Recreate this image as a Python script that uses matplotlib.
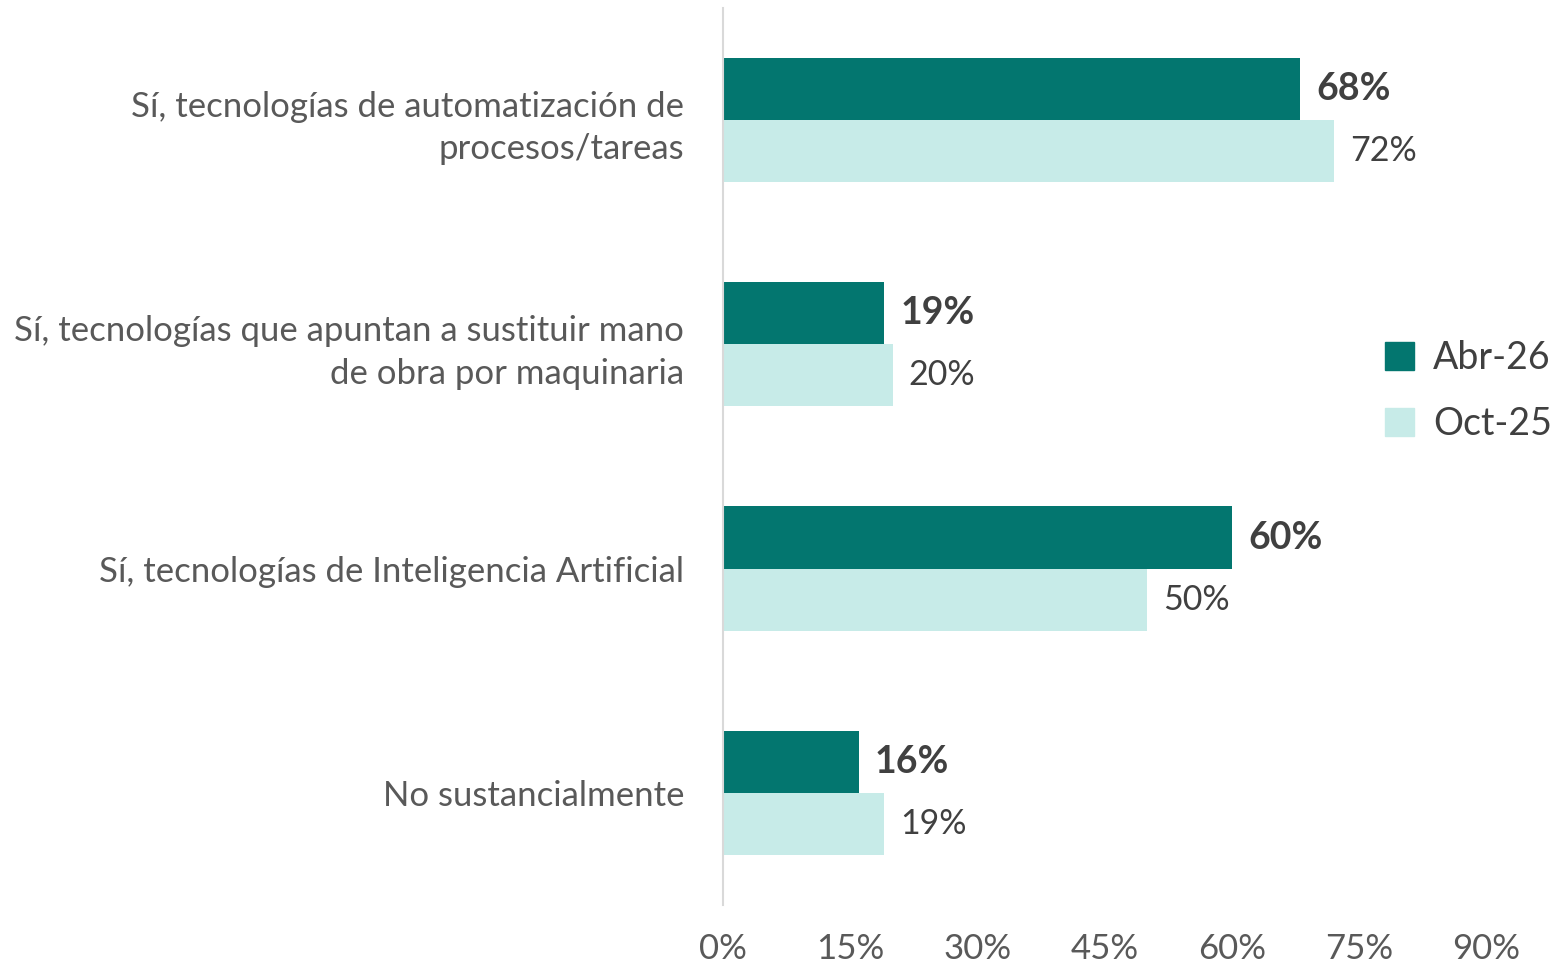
import matplotlib
matplotlib.use("Agg")
import matplotlib.pyplot as plt
from matplotlib.patches import Patch

categories = [
    "Sí, tecnologías de automatización de\nprocesos/tareas",
    "Sí, tecnologías que apuntan a sustituir mano\nde obra por maquinaria",
    "Sí, tecnologías de Inteligencia Artificial",
    "No sustancialmente",
]
abr26 = [68, 19, 60, 16]
oct25 = [72, 20, 50, 19]
series_names = ["Abr-26", "Oct-25"]
xticks = [0, 15, 30, 45, 60, 75, 90]

DARK = "#03766F"
LIGHT = "#C7EBE8"
TXT = "#404040"

plt.rcParams.update({"font.family": ["Lato", "DejaVu Sans"], "font.size": 25})

fig = plt.figure(figsize=(15.55, 9.68), dpi=100)
ax = fig.add_axes([0.465, 0.065, 0.491, 0.927])

h = 0.277
ys = list(range(len(categories)))
ax.barh([y - h / 2 for y in ys], abr26, height=h, color=DARK, label=series_names[0])
ax.barh([y + h / 2 for y in ys], oct25, height=h, color=LIGHT, label=series_names[1])

for y, a, o in zip(ys, abr26, oct25):
    ax.text(a + 1.9, y - h / 2, f"{a}%", va="center", ha="left",
            fontsize=27, fontweight="bold", color=TXT)
    ax.text(o + 1.9, y + h / 2, f"{o}%", va="center", ha="left",
            fontsize=24.5, color=TXT)

ax.set_xlim(0, 90)
ax.set_ylim(3.5, -0.5)
ax.set_xticks(xticks)
ax.set_xticklabels([f"{t}%" for t in xticks], color="#595959")
ax.set_yticks(ys)
ax.set_yticklabels(categories, color="#595959", ha="right", linespacing=1.4)
ax.tick_params(axis="x", length=0, pad=20)
ax.tick_params(axis="y", length=0, pad=28)

for s in ("top", "right", "bottom"):
    ax.spines[s].set_visible(False)
ax.spines["left"].set_color("#D9D9D9")
ax.spines["left"].set_linewidth(1.5)

handles = [Patch(color=DARK, label=series_names[0]),
           Patch(color=LIGHT, label=series_names[1])]
fig.legend(handles=handles, loc="center left", bbox_to_anchor=(0.869, 0.596),
           frameon=False, fontsize=27, labelcolor=TXT, handlelength=0.78,
           handleheight=0.78, handletextpad=0.5, labelspacing=0.81)

fig.savefig("out.png", dpi=100)
